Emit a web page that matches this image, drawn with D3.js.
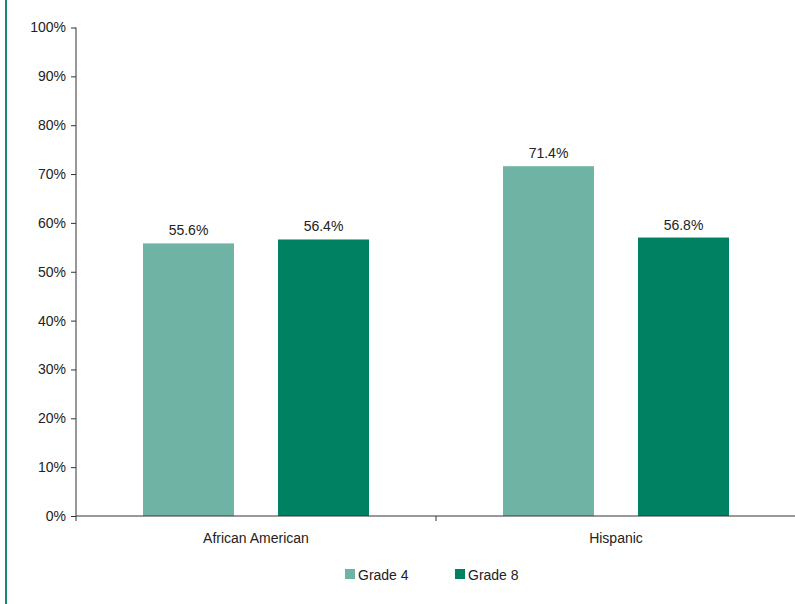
<!DOCTYPE html>
<html>
<head>
<meta charset="utf-8">
<script src="https://cdn.jsdelivr.net/npm/d3@7"></script>
<style>
  html, body { margin: 0; padding: 0; background: #fff; }
  svg { display: block; font-family: "Liberation Sans", Arial, sans-serif; }
</style>
</head>
<body>
<svg id="chart" width="795" height="604"></svg>
<script>
const categories = ["African American", "Hispanic"];
const seriesNames = ["Grade 4", "Grade 8"];
const grade4 = [55.6, 71.4];
const grade8 = [56.4, 56.8];
const yTicks = [0, 10, 20, 30, 40, 50, 60, 70, 80, 90, 100];
const colors = ["#6fb3a5", "#008161"];

const svg = d3.select("#chart");
const margin = { left: 76, right: 0, top: 27.5, bottom: 88 };
const W = 795, H = 604;
const plotBottom = 516;
const FS = 14;

// left border line
svg.append("line")
  .attr("x1", 6).attr("x2", 6).attr("y1", 0).attr("y2", H)
  .attr("stroke", "#138a6e").attr("stroke-width", 2);

const x0 = d3.scaleBand().domain(categories).range([76, 796]).paddingInner(0).paddingOuter(0);
const x1 = d3.scaleBand().domain(seriesNames).range([0, x0.bandwidth()])
  .paddingInner(44 / 135).paddingOuter(67 / 135);
const y = d3.scaleLinear().domain([0, 100]).range([plotBottom, margin.top]);

const data = categories.map((c, i) => ({ cat: c, vals: [grade4[i], grade8[i]] }));

const groups = svg.append("g").selectAll("g").data(data).join("g")
  .attr("transform", d => `translate(${x0(d.cat)},0)`);

groups.selectAll("rect").data(d => d.vals.map((v, j) => ({ name: seriesNames[j], v, j })))
  .join("rect")
  .attr("x", d => x1(d.name))
  .attr("width", x1.bandwidth())
  .attr("y", d => y(d.v) - 1)
  .attr("height", d => plotBottom - y(d.v) + 1)
  .attr("fill", d => colors[d.j]);

groups.selectAll("text.val").data(d => d.vals.map((v, j) => ({ name: seriesNames[j], v, j })))
  .join("text")
  .attr("class", "val")
  .attr("x", d => x1(d.name) + x1.bandwidth() / 2)
  .attr("y", d => y(d.v) - 9)
  .attr("text-anchor", "middle")
  .attr("font-size", FS)
  .attr("fill", "#222")
  .text(d => d.v.toFixed(1) + "%");

// y axis
const yAxis = d3.axisLeft(y).tickValues(yTicks).tickSize(5).tickPadding(5)
  .tickFormat(d => d + "%");
const gy = svg.append("g").attr("transform", "translate(76,0)").call(yAxis);
gy.select(".domain").attr("stroke", "#333").attr("d", `M0,${margin.top}V${plotBottom}`);
gy.selectAll(".tick line").attr("stroke", "#333");
gy.selectAll(".tick text").attr("font-size", FS).attr("fill", "#222")
  .attr("font-family", "Liberation Sans, Arial, sans-serif");

// x axis
const gx = svg.append("g").attr("transform", `translate(0,${plotBottom})`);
gx.append("line").attr("x1", 76).attr("x2", 796).attr("y1", 0).attr("y2", 0)
  .attr("stroke", "#333");
const boundaries = categories.map(c => x0(c)).concat([x0(categories[categories.length - 1]) + x0.bandwidth()]);
gx.selectAll("line.tk").data(boundaries).join("line").attr("class", "tk")
  .attr("x1", d => d).attr("x2", d => d).attr("y1", 0).attr("y2", 5)
  .attr("stroke", "#333");
gx.selectAll("text").data(categories).join("text")
  .attr("x", d => x0(d) + x0.bandwidth() / 2)
  .attr("y", 27)
  .attr("text-anchor", "middle")
  .attr("font-size", FS)
  .attr("fill", "#222")
  .text(d => d);

// legend
const legendX = [345, 455];
const leg = svg.append("g").selectAll("g").data(seriesNames).join("g")
  .attr("transform", (d, i) => `translate(${legendX[i]},569)`);
leg.append("rect").attr("width", 10).attr("height", 10).attr("fill", (d, i) => colors[i]);
leg.append("text").attr("x", 13).attr("y", 10.5).attr("font-size", FS).attr("fill", "#222").text(d => d);
</script>
</body>
</html>
